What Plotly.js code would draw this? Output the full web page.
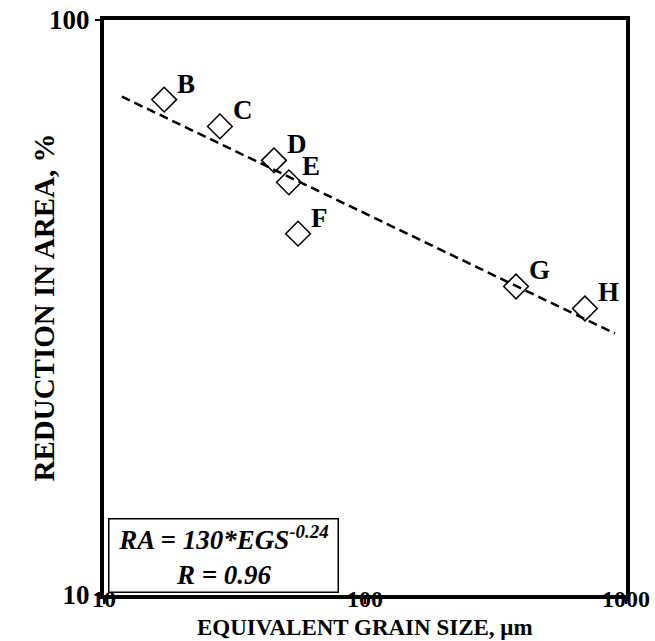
<!DOCTYPE html>
<html>
<head>
<meta charset="utf-8">
<script src="https://cdn.plot.ly/plotly-3.0.1.min.js"></script>
<style>html,body{margin:0;padding:0;background:#fff;}#chart{width:655px;height:641px;}</style>
</head>
<body>
<div id="chart"></div>
<script>
// Data
const labels = ["B", "C", "D", "E", "F", "G", "H"];
const grainSize = [17.0, 27.8, 44.8, 51.1, 55.4, 379, 696];
const reduction = [72.7, 65.3, 57.0, 52.2, 42.5, 34.4, 31.5];
const fitX = [11.7, 907];
const fitY = [73.6, 28.5];
const xTicks = [10, 100, 1000];
const yTicks = [10, 100];
const xTitle = "EQUIVALENT GRAIN SIZE, μm";
const yTitle = "REDUCTION IN AREA, %";
const fitText = "RA = 130*EGS<sup>-0.24</sup><br>R = 0.96";

const fam = "Liberation Serif, Times New Roman, serif";
const bold = (size) => ({family: fam, size: size, color: "#000", weight: "bold"});

const traces = [
  {
    x: fitX, y: fitY, mode: "lines", type: "scatter",
    line: {color: "#000", width: 2.5, dash: "9px,5px"},
    hoverinfo: "skip", showlegend: false
  },
  {
    x: grainSize, y: reduction, mode: "markers", type: "scatter",
    marker: {symbol: "diamond-open", size: 19, color: "#000", line: {color: "#000", width: 1.5}},
    showlegend: false
  }
];

const pointLabels = labels.map((l, i) => ({
  x: Math.log10(grainSize[i]), y: Math.log10(reduction[i]),
  xref: "x", yref: "y", text: l, showarrow: false,
  xanchor: "left", yanchor: "middle", xshift: 11, yshift: 16,
  font: bold(27)
}));

const titles = [
  {
    xref: "paper", yref: "paper", x: 0.5, y: 0, xanchor: "center", yanchor: "bottom",
    yshift: -46, text: xTitle, showarrow: false, font: bold(23), borderpad: 0
  },
  {
    xref: "paper", yref: "paper", x: 0, y: 0.5, xanchor: "center", yanchor: "middle",
    xshift: -61, textangle: -90, text: yTitle, showarrow: false, font: bold(29)
  }
];

const layout = {
  width: 655, height: 641,
  margin: {l: 104, r: 29, t: 20, b: 46},
  paper_bgcolor: "#fff", plot_bgcolor: "#fff",
  font: {family: fam, color: "#000"},
  showlegend: false,
  xaxis: {
    type: "log", range: [1, 3],
    tickvals: xTicks, ticktext: xTicks.map(String),
    ticks: "outside", ticklen: 5, tickwidth: 2, tickcolor: "#000",
    tickfont: bold(24), ticklabelstandoff: -26,
    showgrid: false, zeroline: false,
    showline: true, linewidth: 4, linecolor: "#000", mirror: true
  },
  yaxis: {
    type: "log", range: [1, 2],
    tickvals: yTicks, ticktext: yTicks.map(String),
    ticks: "outside", ticklen: 5, tickwidth: 2, tickcolor: "#000",
    tickfont: bold(27),
    showgrid: false, zeroline: false,
    showline: true, linewidth: 4, linecolor: "#000", mirror: true
  },
  annotations: pointLabels.concat(titles, [
    {
      xref: "paper", yref: "paper", x: 0.008, y: 0.004,
      xanchor: "left", yanchor: "bottom",
      text: fitText, showarrow: false, align: "center",
      font: {family: fam, size: 27, color: "#000", weight: "bold", style: "italic"},
      bordercolor: "#000", borderwidth: 1.5, borderpad: 2,
      bgcolor: "#fff", width: 224, height: 68
    }
  ])
};

Plotly.newPlot("chart", traces, layout, {displayModeBar: false, staticPlot: true});
</script>
</body>
</html>
